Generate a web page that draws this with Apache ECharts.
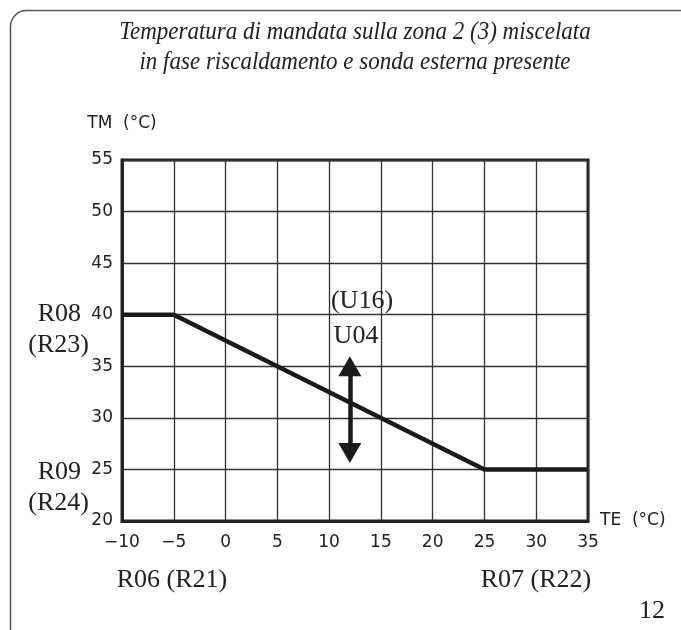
<!DOCTYPE html>
<html>
<head>
<meta charset="utf-8">
<script src="https://cdn.jsdelivr.net/npm/echarts@6/dist/echarts.min.js"></script>
<style>
html,body{margin:0;padding:0;background:#fff;}
#c{width:681px;height:630px;}
</style>
</head>
<body>
<div id="c"></div>
<script>
// ---- data ----
const titleLines = ['Temperatura di mandata sulla zona 2 (3) miscelata', 'in fase riscaldamento e sonda esterna presente'];
const xTicks = [-10, -5, 0, 5, 10, 15, 20, 25, 30, 35];
const yTicks = [20, 25, 30, 35, 40, 45, 50, 55];
const curveTE = [-10, -5, 25, 35];
const curveTM = [40, 40, 25, 25];
const arrowTE = 12;
const arrowTM = [26.6, 35];   // centres of the two arrow heads
const xName = 'TE  (°C)';
const yName = 'TM  (°C)';
const pageNumber = '12';

const chart = echarts.init(document.getElementById('c'), null, {renderer: 'canvas'});
const serif = '"Liberation Serif", "DejaVu Serif", serif';
const tickFont = '"DejaVu Sans", sans-serif';
const minus = v => String(v).replace('-', '\u2212');

const curveData = curveTE.map((x, i) => [x, curveTM[i]]);

function label(text, x, y, align, size) {
  return {type: 'text', x: x, y: y, z: 10,
    style: {text: text, font: (size || 26) + 'px ' + serif, fill: '#222', textAlign: align || 'center', textVerticalAlign: 'middle'}};
}

chart.setOption({
  animation: false,
  backgroundColor: '#fff',
  grid: {left: 122, right: 93, top: 160, bottom: 109, show: true, borderColor: '#222', borderWidth: 3, backgroundColor: 'transparent'},
  xAxis: {
    type: 'value', min: xTicks[0], max: xTicks[xTicks.length - 1], interval: 5,
    name: xName, nameLocation: 'end', nameGap: 12,
    nameTextStyle: {fontFamily: tickFont, fontSize: 17, color: '#222', verticalAlign: 'middle'},
    axisLine: {show: true, onZero: false, lineStyle: {color: '#222', width: 3}},
    axisTick: {show: false},
    axisLabel: {fontFamily: tickFont, fontSize: 17, color: '#222', margin: 13, formatter: minus},
    splitLine: {show: true, lineStyle: {color: '#333', width: 1.3}}
  },
  yAxis: {
    type: 'value', min: yTicks[0], max: yTicks[yTicks.length - 1], interval: 5,
    name: yName, nameLocation: 'end', nameGap: 28,
    nameTextStyle: {fontFamily: tickFont, fontSize: 17, color: '#222'},
    axisLine: {show: true, onZero: false, lineStyle: {color: '#222', width: 3}},
    axisTick: {show: false},
    axisLabel: {fontFamily: tickFont, fontSize: 17, color: '#222', margin: 9},
    splitLine: {show: true, lineStyle: {color: '#333', width: 1.3}}
  },
  series: [
    {
      type: 'line', data: curveData, symbol: 'none',
      lineStyle: {color: '#1a1a1a', width: 4.5}, z: 5
    },
    {
      type: 'line', data: [], symbol: 'none',
      markLine: {
        silent: true, symbol: ['triangle', 'triangle'], symbolSize: [23, 20],
        label: {show: false},
        lineStyle: {color: '#1a1a1a', width: 4.5, type: 'solid'},
        data: [[{coord: [arrowTE, arrowTM[0]]}, {coord: [arrowTE, arrowTM[1]]}]]
      }, z: 6
    }
  ],
  graphic: [
    {type: 'rect', left: 8, top: 8, z: -1, shape: {x: 0, y: 0, width: 700, height: 660, r: 16},
     style: {fill: 'none', stroke: '#555', lineWidth: 1.5}},
    {type: 'text', x: 355, y: 32, scaleX: 0.885, z: 10, style: {text: titleLines[0], font: 'italic 26px ' + serif, fill: '#222', textAlign: 'center', textVerticalAlign: 'middle'}},
    {type: 'text', x: 355, y: 62, scaleX: 0.885, z: 10, style: {text: titleLines[1], font: 'italic 26px ' + serif, fill: '#222', textAlign: 'center', textVerticalAlign: 'middle'}},
    label('R08', 81, 314, 'right'),
    label('(R23)', 89, 345, 'right'),
    label('R09', 81, 472, 'right'),
    label('(R24)', 89, 503, 'right'),
    label('(U16)', 362, 301),
    label('U04', 356, 336),
    label('R06 (R21)', 172, 580),
    label('R07 (R22)', 536, 580),
    label(pageNumber, 652, 611)
  ]
});
</script>
</body>
</html>
